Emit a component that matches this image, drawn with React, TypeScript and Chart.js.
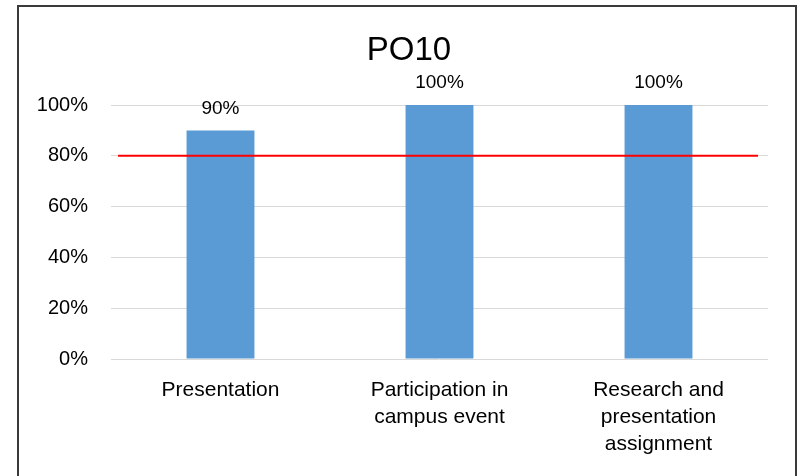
import React, { useEffect, useRef } from "react";
import { Chart, registerables } from "chart.js";

Chart.register(...registerables);

const title = "PO10";
const categories: string[][] = [
  ["Presentation"],
  ["Participation in", "campus event"],
  ["Research and", "presentation", "assignment"],
];
const values = [90, 100, 100];
const targetValue = 80;
const yTicks = [0, 20, 40, 60, 80, 100];

const FONT = "'Liberation Sans', Arial, sans-serif";

export default function App() {
  const ref = useRef<HTMLCanvasElement>(null);
  useEffect(() => {
    document.body.style.margin = "0";
    const canvas = ref.current!;
    const framePlugin = {
      id: "frame",
      afterDraw(chart: any) {
        const { ctx, chartArea, scales } = chart;
        ctx.save();
        // border
        ctx.strokeStyle = "#3a3a3a";
        ctx.lineWidth = 2;
        ctx.beginPath();
        ctx.moveTo(18, 480);
        ctx.lineTo(18, 6);
        ctx.lineTo(796, 6);
        ctx.lineTo(796, 480);
        ctx.stroke();
        // target line
        const y = scales.y.getPixelForValue(targetValue);
        ctx.strokeStyle = "#ff0000";
        ctx.lineWidth = 2;
        ctx.beginPath();
        ctx.moveTo(chartArea.left + 7, y);
        ctx.lineTo(chartArea.right - 10, y);
        ctx.stroke();
        // title
        ctx.fillStyle = "#000";
        ctx.font = `33px ${FONT}`;
        ctx.textAlign = "center";
        ctx.textBaseline = "middle";
        ctx.fillText(title, 409, 51);
        // data labels
        ctx.font = `19px ${FONT}`;
        const meta = chart.getDatasetMeta(0);
        meta.data.forEach((bar: any, i: number) => {
          ctx.fillText(values[i] + "%", bar.x, bar.y - 22);
        });
        ctx.restore();
      },
    };
    const chart = new Chart(canvas, {
      type: "bar",
      data: {
        labels: categories,
        datasets: [
          {
            data: values,
            backgroundColor: "#5B9BD5",
            categoryPercentage: 1,
            barPercentage: 0.31,
          },
        ],
      },
      options: {
        animation: false,
        responsive: false,
        devicePixelRatio: 1,
        layout: { padding: { left: 20, right: 32, top: 105, bottom: 0 } },
        plugins: {
          legend: { display: false },
          title: { display: false },
          tooltip: { enabled: false },
        },
        scales: {
          x: {
            grid: { display: false, drawTicks: false },
            border: { display: false },
            ticks: {
              color: "#000",
              font: { family: FONT, size: 21, lineHeight: 27 / 21 },
              padding: 18,
              maxRotation: 0,
              autoSkip: false,
            },
            afterFit(scale: any) {
              scale.height = 117;
            },
          },
          y: {
            min: 0,
            max: 100,
            afterBuildTicks(scale: any) {
              scale.ticks = yTicks.map((v) => ({ value: v }));
            },
            grid: { color: "#d9d9d9", lineWidth: 1, drawTicks: false },
            border: { display: false },
            ticks: {
              color: "#000",
              font: { family: FONT, size: 20 },
              padding: 23,
              callback: (v: any) => v + "%",
            },
            afterFit(scale: any) {
              scale.width = 91;
            },
          },
        },
      },
      plugins: [framePlugin],
    });
    return () => chart.destroy();
  }, []);
  return (
    <div style={{ width: 800, height: 476 }}>
      <canvas ref={ref} width={800} height={476} style={{ display: "block" }} />
    </div>
  );
}
